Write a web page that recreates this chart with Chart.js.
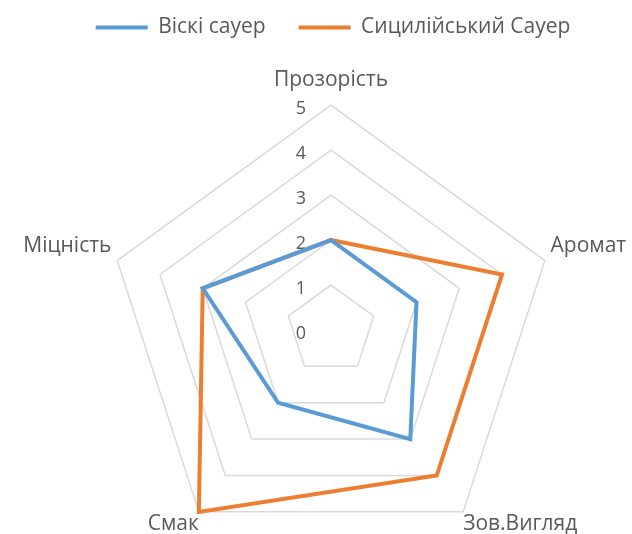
<!DOCTYPE html>
<html>
<head>
<meta charset="utf-8">
<script src="https://cdn.jsdelivr.net/npm/chart.js@4.4.1/dist/chart.umd.min.js"></script>
<style>
  html, body { margin: 0; padding: 0; background: #fff; }
  #frame { width: 632px; height: 534px; overflow: hidden; }
  /* a bit larger than the window: the radar keeps a full circle of room, the pentagon does not need the bottom strip */
  #box { width: 652px; height: 574px; }
</style>
</head>
<body>
<div id="frame"><div id="box"><canvas id="cocktails"></canvas></div></div>
<script>
var criteria = ['Прозорість', 'Аромат', 'Зов.Вигляд', 'Смак', 'Міцність'];
var whiskySour = [2, 2, 3, 2, 3];
var sicilianSour = [2, 4, 4, 5, 3];
var tickValues = [0, 1, 2, 3, 4, 5];

var textGrey = '#595959';
var fontFamily = '"Open Sans", sans-serif';
var labelPadding = [13, 6, 0, 0, 6];

// tick labels sit left of the top axis, like in Excel
var tickLabels = {
  id: 'tickLabels',
  beforeDatasetsDraw: function (chart) {
    var scale = chart.scales.r;
    var ctx = chart.ctx;
    ctx.save();
    ctx.font = '18px ' + fontFamily;
    ctx.fillStyle = textGrey;
    ctx.textAlign = 'center';
    ctx.textBaseline = 'middle';
    tickValues.forEach(function (v) {
      var p = scale.getPointPositionForValue(0, v);
      ctx.fillText(String(v), p.x - 30, p.y + 4);
    });
    ctx.restore();
  }
};

var ctx = document.getElementById('cocktails').getContext('2d');
var myChart = new Chart(ctx, {
  type: 'radar',
  data: {
    labels: criteria,
    datasets: [{
      label: 'Віскі сауер',
      data: whiskySour,
      borderColor: '#5B9BD5',
      backgroundColor: '#5B9BD5',
      fill: false,
      borderWidth: 4,
      pointRadius: 0
    }, {
      label: 'Сицилійський Сауер',
      data: sicilianSour,
      borderColor: '#ED7D31',
      backgroundColor: '#ED7D31',
      fill: false,
      borderWidth: 4,
      pointRadius: 0
    }]
  },
  options: {
    responsive: true,
    maintainAspectRatio: false,
    animation: false,
    layout: { padding: { left: 14, right: 0, top: -16, bottom: 0 } },
    plugins: {
      legend: {
        position: 'top',
        labels: {
          usePointStyle: true,
          pointStyle: 'line',
          pointStyleWidth: 52,
          color: textGrey,
          font: { family: fontFamily, size: 21 },
          padding: 33
        }
      },
      // empty title on the right only reserves a strip, pushing the radar left of the legend centre
      title: {
        display: true,
        text: '',
        position: 'right',
        fullSize: false,
        font: { size: 10 },
        padding: 2
      },
      tooltip: { enabled: false }
    },
    scales: {
      r: {
        min: 0,
        max: 5,
        ticks: { stepSize: 1, display: false },
        grid: { color: '#d9d9d9', lineWidth: 1.5 },
        angleLines: { display: false },
        pointLabels: {
          color: textGrey,
          font: { family: fontFamily, size: 21 },
          padding: function (c) { return labelPadding[c.index]; }
        }
      }
    }
  },
  plugins: [tickLabels]
});
</script>
</body>
</html>
